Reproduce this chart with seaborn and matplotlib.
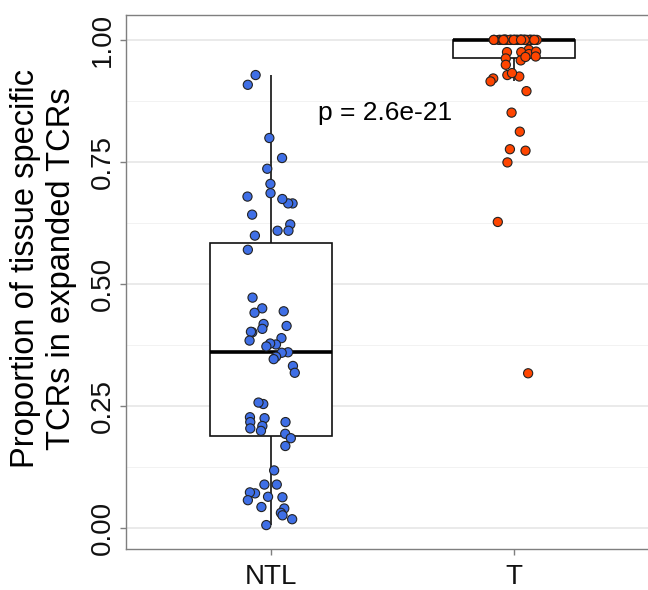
import numpy as np
import pandas as pd
import matplotlib
matplotlib.use("Agg")
import matplotlib.pyplot as plt
import seaborn as sns

# ---- data ----
categories = ["NTL", "T"]
ntl_values = [0.928, 0.908, 0.799, 0.758, 0.736, 0.705, 0.679, 0.686, 0.665, 0.665,
              0.674, 0.642, 0.622, 0.609, 0.599, 0.609, 0.570,
              0.472, 0.450, 0.441, 0.444, 0.414, 0.418, 0.408, 0.401, 0.402,
              0.389, 0.376, 0.384, 0.378, 0.372, 0.360, 0.359, 0.351, 0.346,
              0.332, 0.318,
              0.254, 0.257, 0.217, 0.227, 0.225, 0.217, 0.209, 0.204, 0.199,
              0.193, 0.184, 0.168, 0.118, 0.089, 0.089, 0.071, 0.064, 0.063,
              0.073, 0.057, 0.040, 0.043, 0.031, 0.026, 0.018, 0.006]
t_values_below_one = [0.975, 0.980, 0.968, 0.975, 0.971, 0.958, 0.976, 0.962, 0.965,
                      0.966, 0.949, 0.925, 0.928, 0.932, 0.921, 0.915, 0.895,
                      0.851, 0.812, 0.773, 0.776, 0.749, 0.627, 0.317]
t_values_at_one = [1.0] * 39
t_values = t_values_below_one + t_values_at_one
yticks = [0.00, 0.25, 0.50, 0.75, 1.00]
ytick_labels = ["0.00", "0.25", "0.50", "0.75", "1.00"]
p_label = "p = 2.6e-21"
y_title = "Proportion of tissue specific\nTCRs in expanded TCRs"
colors = {"NTL": "#3F6FE6", "T": "#FF4500"}

df = pd.DataFrame({
    "group": ["NTL"] * len(ntl_values) + ["T"] * len(t_values),
    "value": ntl_values + t_values,
})

sns.set_theme(style="white")
plt.rcParams["font.family"] = ["Liberation Sans", "DejaVu Sans"]

fig = plt.figure(figsize=(6.48, 5.90), dpi=100)
ax = fig.add_axes([125.5 / 648, 41 / 590, 534 / 648, 534 / 590])

# grid
ax.set_axisbelow(True)
ax.set_yticks([0.125, 0.375, 0.625, 0.875], minor=True)
ax.grid(True, which="major", color="#E8E8E8", linewidth=1.3)
ax.grid(True, which="minor", axis="y", color="#F2F2F2", linewidth=0.7)

sns.boxplot(data=df, x="group", y="value", order=categories, ax=ax,
            width=0.5, showfliers=False, showcaps=False, whis=1.5,
            color="white", linecolor="#111111", linewidth=1.2,
            medianprops={"linewidth": 2.6, "color": "#000000"},
            zorder=2)

np.random.seed(11)
sns.stripplot(data=df, x="group", y="value", order=categories, hue="group",
              palette=colors, jitter=0.1, size=6.6, edgecolor="#222222",
              linewidth=0.8, legend=False, ax=ax, zorder=3)

ax.set_xlim(-0.6, 1.6)
ax.set_ylim(-0.043, 1.051)
ax.set_yticks(yticks)
ax.set_yticklabels(ytick_labels, rotation=90, va="center")
ax.set_xlabel("")
ax.set_ylabel(y_title, fontsize=23.5, color="#000000", labelpad=9, linespacing=1.2)
ax.yaxis.label.set_y(0.525)

ax.tick_params(axis="y", which="major", length=4, width=1, color="#7F7F7F",
               labelsize=20, labelcolor="#111111", pad=3, left=True)
ax.tick_params(axis="x", which="major", length=4, width=1, color="#7F7F7F",
               labelsize=20, labelcolor="#111111", pad=6.5, bottom=True)
ax.tick_params(axis="both", which="minor", length=0)

for s in ax.spines.values():
    s.set_visible(True)
    s.set_color("#7F7F7F")
    s.set_linewidth(1.0)

ax.text(0.47, 0.85, p_label, ha="center", va="center", fontsize=19, color="#000000")

fig.savefig("out.png", dpi=100, facecolor="white")
